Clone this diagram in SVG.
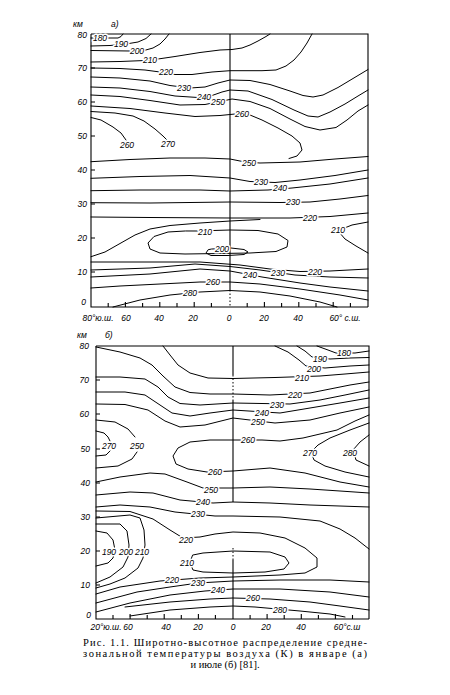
<svg xmlns="http://www.w3.org/2000/svg" width="450" height="695" viewBox="0 0 450 695">
<style>
.c{fill:none;stroke:#000;stroke-width:1;stroke-linejoin:round;stroke-linecap:round}
.ax{fill:none;stroke:#000;stroke-width:1.1}
.dot{fill:none;stroke:#000;stroke-width:1;stroke-dasharray:1.5 2}
.l{font-family:"Liberation Sans",Arial,sans-serif;font-size:8.5px;font-style:italic;text-anchor:middle;dominant-baseline:central;paint-order:stroke;stroke:#fff;stroke-width:3px;stroke-linejoin:round;fill:#000}
.a{font-family:"Liberation Sans",Arial,sans-serif;font-size:8.5px;font-style:italic;fill:#000}
.cap{font-family:"Liberation Serif","Times New Roman",serif;font-size:10.5px;fill:#000}
</style>
<rect width="450" height="695" fill="#fff"/>

<g id="panel-a-frame">
<path class="ax" d="M91,34 H368 V307 M91,34 V307 H368"/>
<path class="ax" d="M230,34 V290"/>
<path class="dot" d="M230,290 V307"/>
<path class="ax" d="M91,68 h4 M91,102 h4 M91,136 h4 M91,170 h4 M91,204 h4 M91,238 h4 M91,272 h4"/>
<path class="ax" d="M108.2,307 v-4 M125.4,307 v-5 M142.6,307 v-4 M159.8,307 v-5 M177,307 v-4 M194.2,307 v-5 M211.4,307 v-4 M247.2,307 v-4 M264.4,307 v-5 M281.6,307 v-4 M298.8,307 v-5 M316,307 v-4 M333.2,307 v-5 M350.4,307 v-4"/>
<text class="a" x="73" y="27">км</text><text class="a" x="111" y="27">а)</text>
<g text-anchor="end">
<text class="a" x="87" y="38">80</text><text class="a" x="87" y="71">70</text><text class="a" x="87" y="105">60</text><text class="a" x="87" y="139">50</text><text class="a" x="87" y="173">40</text><text class="a" x="87" y="207">30</text><text class="a" x="87" y="241">20</text><text class="a" x="87" y="275">10</text><text class="a" x="86" y="305" font-size="7">0</text>
</g>
<g text-anchor="middle">
<text class="a" x="98" y="321">80°ю.ш.</text><text class="a" x="126" y="321">60</text><text class="a" x="159" y="321">40</text><text class="a" x="193" y="321">20</text><text class="a" x="229" y="321">0</text><text class="a" x="264" y="321">20</text><text class="a" x="298" y="321">40</text><text class="a" x="345" y="321">60° с.ш.</text>
</g>
</g>

<g id="connectors-a">
<path class="c" d="M91,38 L118,38 L121,36.5 L123,34"/>
<path class="c" d="M91,46 L110,45.5 L126,44 L138,42 L146,38.5 L151,34"/>
<path class="c" d="M91,50.5 L130,51 L144,50.5 L153,48 L160,44 L165,39 L169,34"/>
<path class="c" d="M91,62 L120,61.5 L145,60.5 L158,59 L175,56.5 L200,52.5 L220,50 L232,49.5 L242,48 L250,45 L258,41 L266,36.5 L270,34"/>
<path class="c" d="M91,68 L120,68.5 L145,70 L160,72 L175,74.5 L192,74.5 L212,72 L230,70.7 L262,70.7 L276,70 L286,66 L294,60 L301,52 L307,43 L312,34"/>
<path class="c" d="M91,77 L120,78 L150,81 L170,85.5 L190,88 L205,87 L218,83 L230,80 L250,80.5 L270,84.5 L290,91 L303,95.5 L313,97 L323,95 L338,87.5 L353,78.5 L368,69.5"/>
<path class="c" d="M91,87 L120,88 L150,91.5 L175,96 L198,97.5 L212,95.5 L222,92 L230,90 L248,91 L272,99.5 L294,110 L308,116 L318,117 L330,112 L345,104 L358,96 L368,90"/>
<path class="c" d="M91,95 L120,96.5 L150,100.5 L180,105 L205,104.5 L225,100.5 L232,99 L250,101.5 L270,108.5 L290,119 L305,126.5 L320,130 L336,127.5 L347,120 L358,111 L368,105"/>
<path class="c" d="M91,106 L130,108.5 L165,113 L195,116.5 L220,115.5 L235,114 L250,115 L262,120 L278,128 L292,136 L300,143 L302,150 L297,156 L289,158.5"/>
<path class="c" d="M91,111.5 L115,113 L133,116 L144,121 L155,129 L163,136 L167,140"/>
<path class="c" d="M91,117.5 L101,120 L113,127 L121,133 L126,140"/>
<path class="c" d="M91,161.7 L130,159.5 L170,158 L205,158 L230,159 L245,162 L260,163 L300,162 L335,159 L368,156.5"/>
<path class="c" d="M91,178.3 L140,176.5 L190,175.5 L230,178 L250,181.5 L275,182.5 L300,180 L335,175.5 L368,170"/>
<path class="c" d="M91,190.7 L140,190 L200,190 L230,191 L268,190 L292,188 L330,184 L368,178"/>
<path class="c" d="M91,202.7 L150,203 L230,202 L280,202.5 L310,202 L340,199 L368,195.5"/>
<path class="c" d="M91,217 L150,217.5 L230,218 L290,218 L330,216.5 L368,213"/>
<path class="c" d="M91,256.7 L105,252 L120,243.5 L135,235 L150,229 L170,225.5 L200,223 L230,221 L260,219.5"/>
<path class="c" d="M368,222 L352,225 L342,229 L339,232 L345,239 L356,246 L368,253"/>
<path class="c" d="M198,231 L213,230.5 L230,230 L258,230.5 L278,234 L288,240.5 L287,247 L276,251.5 L250,253 L220,253.5 L185,254 L160,253 L150,249 L148,243 L154,236.5 L168,232 L185,231 Z"/>
<path class="c" d="M212,249 L231,248 L244,249.5 L248,252 L244,254.5 L228,255.5 L211,255.5 L206,253 L208,250 Z"/>
<path class="c" d="M91,262 L150,262 L200,262 L240,265 L270,269 L300,271.5 L330,271 L368,269"/>
<path class="c" d="M91,270 L150,268 L195,264 L230,266.5 L260,270 L295,275 L330,277 L368,278"/>
<path class="c" d="M91,277 L150,274 L200,269 L230,271 L262,277 L300,283 L330,287 L368,291"/>
<path class="c" d="M91,288 L120,286 L160,284 L200,282 L230,282 L260,284 L300,289 L340,295 L368,300"/>
<path class="c" d="M113,307 L140,300 L170,295 L200,292 L230,290.5 L260,292 L290,296 L320,302 L337,307"/>
</g>

<g id="labels-a">
<text class="l" x="100" y="38">180</text><text class="l" x="121" y="44">190</text><text class="l" x="137" y="51">200</text><text class="l" x="150" y="60">210</text><text class="l" x="166" y="72">220</text><text class="l" x="184" y="88">230</text><text class="l" x="204" y="96.5">240</text><text class="l" x="218" y="102">250</text><text class="l" x="242" y="114">260</text><text class="l" x="127" y="145">260</text><text class="l" x="168" y="144">270</text><text class="l" x="249" y="163">250</text><text class="l" x="261" y="182">230</text><text class="l" x="280" y="188">240</text><text class="l" x="293" y="202">230</text><text class="l" x="310" y="218">220</text><text class="l" x="338" y="230">210</text><text class="l" x="205" y="232">210</text><text class="l" x="222" y="249">200</text><text class="l" x="250" y="275">240</text><text class="l" x="278" y="273">230</text><text class="l" x="315" y="272">220</text><text class="l" x="213" y="282">260</text><text class="l" x="190" y="293">280</text>
</g>

<g id="panel-b-frame">
<path class="ax" d="M96,346 H369 V619 M96,346 V619 H369"/>
<path class="ax" d="M233,346 V375 M233,400 V502 M233,560 V619"/>
<path class="dot" d="M233,375 V400 M233,548 V560"/>
<path class="ax" d="M96,380 h4 M96,414 h4 M96,449 h4 M96,483 h4 M96,517 h4 M96,551 h4 M96,585 h4"/>
<path class="ax" d="M113,619 v-4 M130.1,619 v-5 M147.2,619 v-4 M164.2,619 v-5 M181.3,619 v-4 M198.4,619 v-5 M215.4,619 v-4 M250.1,619 v-4 M267.1,619 v-5 M284.2,619 v-4 M301.3,619 v-5 M318.4,619 v-4 M335.4,619 v-5 M352.5,619 v-4"/>
<text class="a" x="77" y="338">км</text><text class="a" x="105" y="338">б)</text>
<g text-anchor="end">
<text class="a" x="89" y="349">80</text><text class="a" x="89" y="383">70</text><text class="a" x="89" y="417">60</text><text class="a" x="90" y="452">50</text><text class="a" x="90" y="486">40</text><text class="a" x="90" y="520">30</text><text class="a" x="90" y="554">20</text><text class="a" x="90" y="588">10</text><text class="a" x="91" y="618" font-size="7">0</text>
</g>
<g text-anchor="middle">
<text class="a" x="106" y="630">20°ю.ш.</text><text class="a" x="128" y="630">60</text><text class="a" x="166" y="630">40</text><text class="a" x="198" y="630">20</text><text class="a" x="233" y="630">0</text><text class="a" x="266" y="630">20</text><text class="a" x="301" y="630">40</text><text class="a" x="347" y="630">60°с.ш</text>
</g>
</g>

<g id="connectors-b">
<path class="c" d="M317,346 L328,350 L336,353 L355,353 L369,351"/>
<path class="c" d="M297,346 L305,351 L312,357 L330,359 L350,358 L369,357.5"/>
<path class="c" d="M275,346 L288,352 L299,360 L306,366 L325,368 L350,366 L369,365"/>
<path class="c" d="M163,346 L170,355 L178,365 L190,373 L208,378 L233,378.5 L275,377.5 L320,376 L345,374 L369,372"/>
<path class="c" d="M96,347 L120,352 L140,358 L152,365 L163,376 L175,387 L190,392.5 L210,394 L233,394 L270,395 L310,393 L330,389 L350,385 L369,382"/>
<path class="c" d="M96,377 L120,377 L145,379 L158,387 L168,397 L180,403.5 L200,405 L233,403 L290,404 L320,400 L345,395 L369,390"/>
<path class="c" d="M96,392 L125,392 L145,395 L160,405 L172,413 L190,416 L210,413 L233,410 L280,413 L310,408 L340,403 L369,398"/>
<path class="c" d="M96,404 L125,404.5 L148,410 L165,421 L180,427 L205,425 L233,418 L275,423 L310,420 L340,413 L369,407"/>
<path class="c" d="M369,415 L355,421 L337,430 L320,434 L303,438 L280,441 L262,440 L233,440 L210,440 L190,442 L178,448 L173,456 L176,464 L188,469 L207,472 L233,471 L270,468 L305,473 L340,482 L369,487"/>
<path class="c" d="M369,423 L350,430 L330,438 L318,445 L311,452 L314,460 L325,466 L345,472 L369,477"/>
<path class="c" d="M369,435 L360,442 L353,450 L356,460 L369,466"/>
<path class="c" d="M96,431 L104,433 L108,437 L110,441 M110,451 L106,455 L96,456"/>
<path class="c" d="M96,420 L115,422 L128,429 L135,437 M137,452 L132,459 L118,466 L96,468"/>
<path class="c" d="M96,482 L120,477 L150,473 L165,474 L187,482 L203,488 L233,488 L270,487 L310,489 L340,491 L369,493"/>
<path class="c" d="M96,495 L130,492 L153,493 L180,500 L213,503 L233,502 L270,503 L310,505 L369,507"/>
<path class="c" d="M96,507 L120,505 L150,507 L175,512 L215,516 L233,516 L280,517 L320,521 L340,529 L355,538 L369,549"/>
<path class="c" d="M96,511 L130,511.5 L153,519 L170,530 L183,538 L200,537 L215,534 L233,532 L260,533 L285,538 L305,548 L317,558 L317,567 L305,573 L280,575 L233,577 L200,578 L160,581 L120,587 L96,594"/>
<path class="c" d="M193,555 L203,553 L233,551 L270,552 L285,557 L289,563 L284,569 L265,572 L233,573 L203,572 L193,570 L190,563 Z"/>
<path class="c" d="M96,531 L107,533 L113,540 L115,550 L113,558 L108,563 L96,566"/>
<path class="c" d="M96,524 L120,524 L127,531 L129,545 L128,557 L123,567 L110,577 L96,583"/>
<path class="c" d="M96,518 L130,515 L140,518 L144,530 L145,545 L143,558 L138,568 L125,578 L110,584 L96,588"/>
<path class="c" d="M96,603 L137,592 L170,587 L198,583 L233,581 L280,580 L330,580 L369,582"/>
<path class="c" d="M96,612 L130,603 L170,595 L205,591 L233,589 L280,589 L330,592 L369,597"/>
<path class="c" d="M125,607 L170,602 L210,599 L233,598 L270,599 L310,602 L340,606 L369,610"/>
<path class="c" d="M130,616 L170,610 L210,607 L233,606 L255,607 L300,611 L330,614 L345,617"/>
</g>

<g id="labels-b">
<text class="l" x="344" y="353">180</text><text class="l" x="320" y="359">190</text><text class="l" x="314" y="369">200</text><text class="l" x="302" y="378">210</text><text class="l" x="295" y="395">220</text><text class="l" x="277" y="405">230</text><text class="l" x="262" y="413">240</text><text class="l" x="258" y="422">250</text><text class="l" x="248" y="440">260</text><text class="l" x="109" y="446">270</text><text class="l" x="137" y="446">250</text><text class="l" x="215" y="472">260</text><text class="l" x="310" y="453">270</text><text class="l" x="350" y="453">280</text><text class="l" x="211" y="490">250</text><text class="l" x="203" y="502">240</text><text class="l" x="198" y="514">230</text><text class="l" x="109" y="552">190</text><text class="l" x="126" y="552">200</text><text class="l" x="142" y="552">210</text><text class="l" x="186" y="540">220</text><text class="l" x="187" y="563">210</text><text class="l" x="172" y="580">220</text><text class="l" x="198" y="583">230</text><text class="l" x="218" y="590">240</text><text class="l" x="253" y="598">260</text><text class="l" x="280" y="610">280</text>
</g>

<g id="caption">
<text class="cap" x="83" y="646" textLength="284" lengthAdjust="spacing">Рис. 1.1. Широтно-высотное распределение средне-</text>
<text class="cap" x="83" y="657" textLength="284" lengthAdjust="spacing">зональной температуры воздуха (К) в январе (а)</text>
<text class="cap" x="225" y="668" text-anchor="middle">и июле (б) [81].</text>
</g>
</svg>
